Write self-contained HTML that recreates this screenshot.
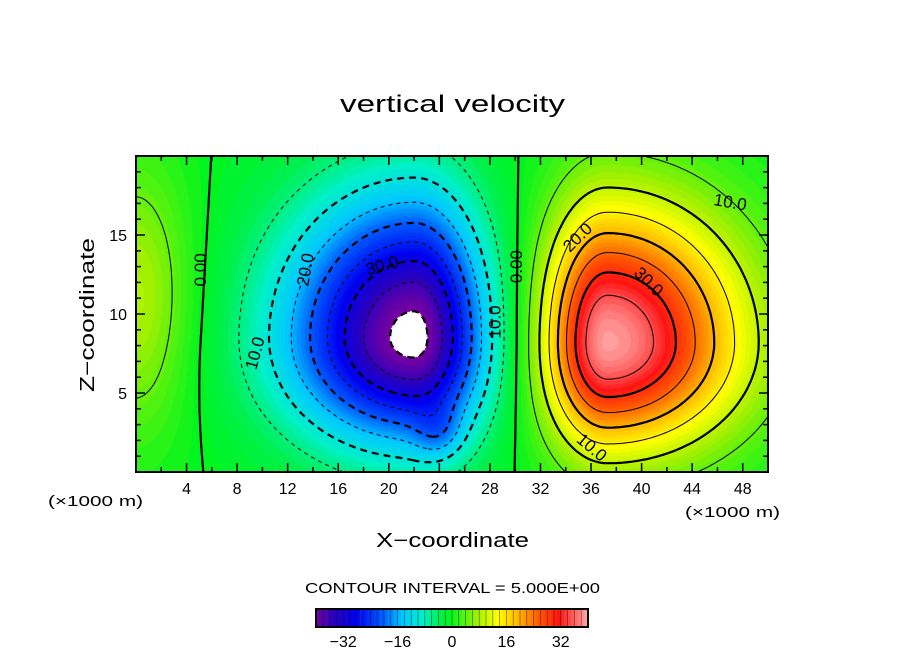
<!DOCTYPE html>
<html><head><meta charset="utf-8"><style>
body{margin:0;background:#fff;width:904px;height:654px;overflow:hidden;font-family:"Liberation Sans",sans-serif}
#wrap{position:relative;width:904px;height:654px}
canvas{position:absolute;left:136px;top:156px}
svg{position:absolute;left:0;top:0}
</style></head><body>
<div id="wrap">
<canvas id="heat" width="632" height="316"></canvas>
<svg id="svg" width="904" height="654">
<text x="340" y="112" font-size="24" textLength="225" lengthAdjust="spacingAndGlyphs">vertical velocity</text>
<text x="0" y="0" font-size="20" text-anchor="middle" textLength="154" lengthAdjust="spacingAndGlyphs" transform="translate(94,315) rotate(-90)">Z−coordinate</text>
<text x="376" y="547" font-size="20" textLength="153" lengthAdjust="spacingAndGlyphs">X−coordinate</text>
<text x="48" y="506" font-size="15" textLength="95" lengthAdjust="spacingAndGlyphs">(×1000 m)</text>
<text x="685" y="517" font-size="15" textLength="95" lengthAdjust="spacingAndGlyphs">(×1000 m)</text>
<text x="305" y="593" font-size="15" textLength="295" lengthAdjust="spacingAndGlyphs">CONTOUR INTERVAL = 5.000E+00</text>
<g id="contours"></g>
<g id="labels" font-size="17"></g>
<g id="axes"></g>
<g id="cbar"></g>
</svg>
</div>
<script>
// field model: asymmetric Gaussian blobs (value units, km)
const blobX=[22,37.3,0,24];
const blobZ=[8.5,8.2,11,2.5];
const blobAmp=[-41.6,39.8,9,-6];
const blobSXL=[6.8,3.4,3,1.3];
const blobSXR=[3.8,7.2,3,1.3];
const blobSZB=[4.5,4.6,6,1.2];
const blobSZT=[6.0,5.9,6,1.2];
const xTicks=[4,8,12,16,20,24,28,32,36,40,44,48];
const zTicks=[5,10,15];
const cbarTicks=[-32,-16,0,16,32];
const levels=[-40,-35,-30,-25,-20,-15,-10,-5,0,5,10,15,20,25,30,35,40];
const labelVals=[0,-10,-20,-30,0,-10,10,20,30,10];
const labelPos=[[5.2,12.8],[9.5,7.5],[13.5,12.8],[19.5,13],[30.2,13],[28.5,9.5],[47,17],[35,14.8],[40.5,12],[36,1.5]];
const labelRot=[-90,-75,-80,-15,-90,-90,10,-45,45,40];

const X0=136,Y0=156,W=632,H=316;
const sx=v=>X0+v/50*W, sz=v=>Y0+H-v/20*H;
function field(x,z){let s=0;for(let i=0;i<blobX.length;i++){const ddx=x-blobX[i],ddz=z-blobZ[i];const dx=ddx/(ddx<0?blobSXL[i]:blobSXR[i]),dz=ddz/(ddz<0?blobSZB[i]:blobSZT[i]);s+=blobAmp[i]*Math.exp(-0.5*(dx*dx+dz*dz));}return s;}
const stops=[[-40,[120,0,160]],[-34,[40,0,190]],[-28,[0,0,240]],[-20,[0,90,255]],[-14,[0,200,255]],[-8,[0,240,200]],[-3,[0,240,80]],[0,[0,245,30]],[8,[160,240,0]],[14,[255,255,0]],[20,[255,180,0]],[26,[255,90,0]],[32,[255,20,20]],[40,[255,160,160]],[50,[255,170,170]]];
function color(v){if(v<-40)return[255,255,255];v=Math.round(v);for(let i=0;i<stops.length-1;i++){if(v<=stops[i+1][0]){const t=(v-stops[i][0])/(stops[i+1][0]-stops[i][0]);const a=stops[i][1],b=stops[i+1][1];return[0,1,2].map(k=>Math.round(a[k]+(b[k]-a[k])*t));}}return stops[stops.length-1][1];}
const ctx=document.getElementById('heat').getContext('2d');
const img=ctx.createImageData(W,H);
for(let py=0;py<H;py++)for(let px=0;px<W;px++){const c=color(field((px+0.5)/W*50,(H-py-0.5)/H*20));const o=(py*W+px)*4;img.data[o]=c[0];img.data[o+1]=c[1];img.data[o+2]=c[2];img.data[o+3]=255;}
ctx.putImageData(img,0,0);
const NS='http://www.w3.org/2000/svg';
function el(t,a,p){const e=document.createElementNS(NS,t);for(const k in a)e.setAttribute(k,a[k]);p.appendChild(e);return e;}
// contours via marching squares + chaining
const NX=200,NZ=80,g=[];
for(let j=0;j<=NZ;j++){g[j]=[];for(let i=0;i<=NX;i++)g[j][i]=field(i/NX*50,j/NZ*20);}
const cg=document.getElementById('contours');
levels.forEach(L=>{
  const segs=[];
  // edge point keyed by edge id for exact matching
  function ept(i1,j1,i2,j2){let a=[i1,j1],b=[i2,j2];if(i2<i1||(i2===i1&&j2<j1)){a=[i2,j2];b=[i1,j1];}
    const va=g[a[1]][a[0]],vb=g[b[1]][b[0]];const t=(L-va)/(vb-va);
    return {k:a[0]+'_'+a[1]+'_'+b[0]+'_'+b[1],x:a[0]+(b[0]-a[0])*t,y:a[1]+(b[1]-a[1])*t};}
  for(let j=0;j<NZ;j++){for(let i=0;i<NX;i++){
    const c=[[i,j],[i+1,j],[i+1,j+1],[i,j+1]];
    const pts=[];
    for(let e=0;e<4;e++){const p=c[e],q=c[(e+1)%4];const a=g[p[1]][p[0]],b=g[q[1]][q[0]];if((a<L)!==(b<L))pts.push(ept(p[0],p[1],q[0],q[1]));}
    for(let k=0;k+1<pts.length;k+=2)segs.push([pts[k],pts[k+1]]);
  }}
  const adj={};segs.forEach((s,n)=>{[0,1].forEach(e=>{(adj[s[e].k]=adj[s[e].k]||[]).push(n);});});
  const used=new Array(segs.length).fill(false);
  let d='';
  const P=p=>sx(p.x/NX*50).toFixed(1)+' '+sz(p.y/NZ*20).toFixed(1);
  function walk(start){
    // extend from segment in both directions
    used[start]=true;let line=[segs[start][0],segs[start][1]];
    for(let dir=0;dir<2;dir++){
      let cur=dir===0?line[line.length-1]:line[0];
      while(true){const nb=(adj[cur.k]||[]).find(n=>!used[n]);if(nb===undefined)break;used[nb]=true;const s=segs[nb];const nxt=s[0].k===cur.k?s[1]:s[0];if(dir===0)line.push(nxt);else line.unshift(nxt);cur=nxt;}
    }
    return line;
  }
  for(let n=0;n<segs.length;n++){if(used[n])continue;const line=walk(n);d+='M'+line.map(P).join('L');}
  const major=L%10===0;
  const p=el('path',{d:d,fill:'none',stroke:'#000','stroke-width':major?2.2:1,'stroke-dasharray':L<0?(major?'7 5':'4 4'):'none','stroke-linejoin':'round'},cg);
  
  
});
const lg=document.getElementById('labels');
labelVals.forEach((v,i)=>{
  const x=sx(labelPos[i][0]),y=sz(labelPos[i][1]);
  const t=el('text',{x:x,y:y,'text-anchor':'middle','dominant-baseline':'middle',transform:`rotate(${labelRot[i]} ${x} ${y})`},lg);
  t.textContent=v===0?'0.00':Math.abs(v).toFixed(1);
  
  
});
// axes
const ax=document.getElementById('axes');
el('rect',{x:X0,y:Y0,width:W,height:H,fill:'none',stroke:'#000','stroke-width':2},ax);
for(let v=2;v<50;v+=2){const L=v%4===0?9:5;const x=sx(v);el('line',{x1:x,x2:x,y1:Y0+H,y2:Y0+H-L,stroke:'#000','stroke-width':1.5},ax);el('line',{x1:x,x2:x,y1:Y0,y2:Y0+L,stroke:'#000','stroke-width':1.5},ax);}
for(let v=1;v<20;v++){const L=v%5===0?9:5;const y=sz(v);el('line',{x1:X0,x2:X0+L,y1:y,y2:y,stroke:'#000','stroke-width':1.5},ax);el('line',{x1:X0+W,x2:X0+W-L,y1:y,y2:y,stroke:'#000','stroke-width':1.5},ax);}
xTicks.forEach(v=>{const t=el('text',{x:sx(v),y:494,'font-size':16,'text-anchor':'middle'},ax);t.textContent=v;});
zTicks.forEach(v=>{const t=el('text',{x:127,y:sz(v)+6,'font-size':16,'text-anchor':'end'},ax);t.textContent=v;});
// colorbar
const cb=document.getElementById('cbar');
const cx=v=>316+(v+40)/80*272;
for(let v=-40;v<40;v++){const c=color(v+0.5);const r=el('rect',{x:cx(v),y:609,width:272/80+0.2,height:18,fill:`rgb(${c})`},cb);
 if(v%2===0)el('line',{x1:cx(v),x2:cx(v),y1:609,y2:627,stroke:'#000','stroke-width':0.6,opacity:0.6},cb);}
el('rect',{x:316,y:609,width:272,height:18,fill:'none',stroke:'#000','stroke-width':2},cb);
cbarTicks.forEach(v=>{const t=el('text',{x:cx(v),y:647,'font-size':16,'text-anchor':'middle'},cb);t.textContent=v<0?'−'+(-v):v;});
</script>
</body></html>
